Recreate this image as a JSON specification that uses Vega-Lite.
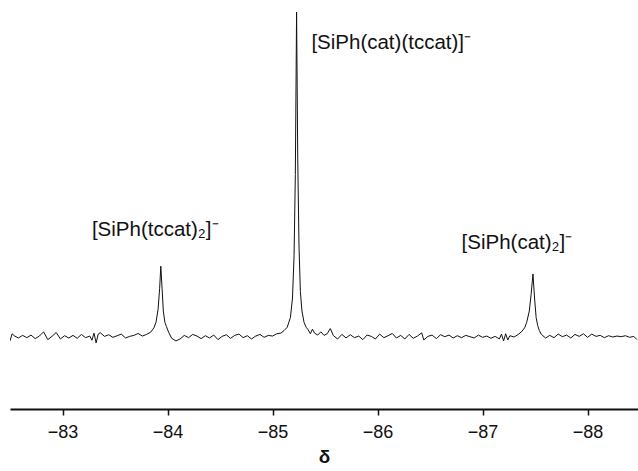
{
  "$schema": "https://vega.github.io/schema/vega-lite/v6.json",
  "autosize": {"type": "none"},
  "width": 628,
  "height": 409,
  "padding": {"left": 10, "top": 0, "right": 0, "bottom": 62},
  "background": "white",
  "config": {"view": {"stroke": null}, "font": "Liberation Sans"},
  "datasets": {
    "spec": [
      {"d": -82.50, "i": -1.2}, {"d": -82.52, "i": 1.0}, {"d": -82.54, "i": 0.4}, {"d": -82.58, "i": -0.3},
      {"d": -82.62, "i": 0.5}, {"d": -82.66, "i": -0.2}, {"d": -82.70, "i": 0.6}, {"d": -82.74, "i": -0.5},
      {"d": -82.78, "i": 0.3}, {"d": -82.82, "i": 1.6}, {"d": -82.86, "i": -0.8}, {"d": -82.90, "i": 0.2},
      {"d": -82.94, "i": 1.4}, {"d": -82.98, "i": -0.6}, {"d": -83.02, "i": 0.4}, {"d": -83.06, "i": -0.3},
      {"d": -83.10, "i": 0.5}, {"d": -83.14, "i": -0.4}, {"d": -83.18, "i": 0.8}, {"d": -83.22, "i": -0.2},
      {"d": -83.26, "i": 0.3}, {"d": -83.28, "i": -1.0}, {"d": -83.30, "i": 1.2}, {"d": -83.32, "i": -1.8},
      {"d": -83.34, "i": 0.9}, {"d": -83.36, "i": 1.3}, {"d": -83.40, "i": 0.2}, {"d": -83.44, "i": 0.7},
      {"d": -83.48, "i": -0.1}, {"d": -83.52, "i": 0.4}, {"d": -83.56, "i": 0.9}, {"d": -83.60, "i": -0.3},
      {"d": -83.64, "i": 0.2}, {"d": -83.68, "i": 0.5}, {"d": -83.72, "i": 1.1}, {"d": -83.76, "i": 0.3},
      {"d": -83.80, "i": 0.8}, {"d": -83.84, "i": 1.5}, {"d": -83.87, "i": 2.8}, {"d": -83.89, "i": 4.5},
      {"d": -83.91, "i": 8.5}, {"d": -83.925, "i": 15}, {"d": -83.936, "i": 21.8}, {"d": -83.948, "i": 15},
      {"d": -83.96, "i": 8}, {"d": -83.975, "i": 4.5}, {"d": -83.99, "i": 3.2}, {"d": -84.01, "i": 1.5},
      {"d": -84.04, "i": -0.4}, {"d": -84.08, "i": -1.2}, {"d": -84.12, "i": -0.6}, {"d": -84.16, "i": 0.5},
      {"d": -84.20, "i": -0.2}, {"d": -84.24, "i": 0.8}, {"d": -84.28, "i": 0.3}, {"d": -84.32, "i": -0.5},
      {"d": -84.36, "i": 0.4}, {"d": -84.40, "i": -0.3}, {"d": -84.44, "i": 0.6}, {"d": -84.48, "i": -0.8},
      {"d": -84.52, "i": 0.2}, {"d": -84.56, "i": 0.7}, {"d": -84.60, "i": -0.4}, {"d": -84.64, "i": 0.5},
      {"d": -84.68, "i": 0.9}, {"d": -84.72, "i": -0.2}, {"d": -84.76, "i": 0.4}, {"d": -84.80, "i": -0.6},
      {"d": -84.84, "i": 0.3}, {"d": -84.88, "i": 0.8}, {"d": -84.92, "i": -0.1}, {"d": -84.96, "i": 0.5},
      {"d": -85.00, "i": 0.3}, {"d": -85.04, "i": 1.0}, {"d": -85.08, "i": 1.2}, {"d": -85.11, "i": 2.0},
      {"d": -85.14, "i": 3.0}, {"d": -85.17, "i": 6}, {"d": -85.19, "i": 12}, {"d": -85.205, "i": 25},
      {"d": -85.217, "i": 50}, {"d": -85.229, "i": 100}, {"d": -85.240, "i": 55}, {"d": -85.252, "i": 28},
      {"d": -85.265, "i": 14}, {"d": -85.28, "i": 8}, {"d": -85.30, "i": 4.5}, {"d": -85.32, "i": 3.0},
      {"d": -85.34, "i": 2.2}, {"d": -85.36, "i": 1.0}, {"d": -85.38, "i": 2.4}, {"d": -85.40, "i": 1.2},
      {"d": -85.43, "i": 0.6}, {"d": -85.46, "i": 1.6}, {"d": -85.49, "i": 0.5}, {"d": -85.52, "i": 1.0},
      {"d": -85.55, "i": 2.6}, {"d": -85.58, "i": 0.4}, {"d": -85.62, "i": -0.6}, {"d": -85.66, "i": 0.8},
      {"d": -85.70, "i": -0.3}, {"d": -85.74, "i": 0.7}, {"d": -85.78, "i": -0.2}, {"d": -85.82, "i": 0.3},
      {"d": -85.86, "i": -0.8}, {"d": -85.90, "i": 0.6}, {"d": -85.94, "i": 0.2}, {"d": -85.98, "i": -0.6},
      {"d": -86.02, "i": 0.9}, {"d": -86.06, "i": -0.2}, {"d": -86.10, "i": 0.4}, {"d": -86.14, "i": 1.1},
      {"d": -86.18, "i": -0.3}, {"d": -86.22, "i": 0.5}, {"d": -86.26, "i": -0.6}, {"d": -86.30, "i": 0.8},
      {"d": -86.34, "i": -0.4}, {"d": -86.38, "i": 0.3}, {"d": -86.42, "i": 1.3}, {"d": -86.44, "i": -0.9},
      {"d": -86.48, "i": 0.2}, {"d": -86.52, "i": 0.6}, {"d": -86.56, "i": -0.5}, {"d": -86.60, "i": 0.7},
      {"d": -86.64, "i": 0.1}, {"d": -86.68, "i": 0.6}, {"d": -86.72, "i": -0.3}, {"d": -86.76, "i": 0.4},
      {"d": -86.80, "i": -0.2}, {"d": -86.84, "i": 0.5}, {"d": -86.88, "i": 0.1}, {"d": -86.92, "i": -0.3},
      {"d": -86.96, "i": 0.6}, {"d": -87.00, "i": -0.1}, {"d": -87.04, "i": 0.3}, {"d": -87.08, "i": -0.4},
      {"d": -87.12, "i": 0.2}, {"d": -87.16, "i": -0.6}, {"d": -87.18, "i": 0.9}, {"d": -87.20, "i": -1.2},
      {"d": -87.22, "i": 1.0}, {"d": -87.24, "i": -0.9}, {"d": -87.26, "i": 0.4}, {"d": -87.30, "i": 0.0},
      {"d": -87.34, "i": 0.8}, {"d": -87.37, "i": 1.6}, {"d": -87.40, "i": 2.8}, {"d": -87.42, "i": 4.5},
      {"d": -87.445, "i": 8}, {"d": -87.462, "i": 13}, {"d": -87.48, "i": 19.4}, {"d": -87.495, "i": 12},
      {"d": -87.51, "i": 6}, {"d": -87.525, "i": 3.5}, {"d": -87.54, "i": 2.0}, {"d": -87.56, "i": 0.8},
      {"d": -87.60, "i": -0.3}, {"d": -87.64, "i": 0.5}, {"d": -87.68, "i": -0.2}, {"d": -87.72, "i": 0.9},
      {"d": -87.76, "i": 0.1}, {"d": -87.80, "i": 0.6}, {"d": -87.84, "i": -0.3}, {"d": -87.88, "i": 0.8},
      {"d": -87.92, "i": 0.2}, {"d": -87.96, "i": 1.0}, {"d": -88.00, "i": -0.1}, {"d": -88.04, "i": 0.9},
      {"d": -88.08, "i": 0.2}, {"d": -88.12, "i": 0.5}, {"d": -88.16, "i": -0.2}, {"d": -88.20, "i": 0.4},
      {"d": -88.24, "i": 0.0}, {"d": -88.28, "i": 0.3}, {"d": -88.32, "i": 0.1}, {"d": -88.36, "i": 0.4},
      {"d": -88.40, "i": -0.1}, {"d": -88.44, "i": 0.2}, {"d": -88.47, "i": -0.8}
    ],
    "labels": [
      {"d": -83.28, "i": 33, "t": "[SiPh(tccat)₂]⁻"},
      {"d": -85.37, "i": 90.5, "t": "[SiPh(cat)(tccat)]⁻"},
      {"d": -86.80, "i": 29, "t": "[SiPh(cat)₂]⁻"}
    ]
  },
  "layer": [
    {
      "data": {"name": "spec"},
      "mark": {"type": "line", "color": "#111111", "strokeWidth": 1, "interpolate": "linear", "clip": true},
      "encoding": {
        "x": {
          "field": "d", "type": "quantitative",
          "scale": {"domain": [-82.5, -88.48], "nice": false, "zero": false},
          "axis": {
            "values": [-83, -84, -85, -86, -87, -88],
            "format": "d",
            "grid": false,
            "domainColor": "#111111", "domainWidth": 2,
            "tickColor": "#111111", "tickWidth": 1.5, "tickSize": 6,
            "labelFont": "Liberation Sans", "labelFontSize": 18, "labelColor": "#111111", "labelPadding": 8,
            "labelFlush": false,
            "title": "δ", "titleFont": "Liberation Sans", "titleFontSize": 19, "titleFontWeight": "bold",
            "titleColor": "#111111", "titlePadding": 6
          }
        },
        "y": {
          "field": "i", "type": "quantitative",
          "scale": {"domain": [-22.15, 103.7], "nice": false, "zero": false},
          "axis": null
        },
        "order": {"field": "d", "sort": "descending"}
      }
    },
    {
      "data": {"name": "labels"},
      "mark": {"type": "text", "font": "Liberation Sans", "fontSize": 20.5, "color": "#111111", "baseline": "middle", "align": "left"},
      "encoding": {
        "x": {"field": "d", "type": "quantitative"},
        "y": {"field": "i", "type": "quantitative"},
        "text": {"field": "t"}
      }
    }
  ]
}
